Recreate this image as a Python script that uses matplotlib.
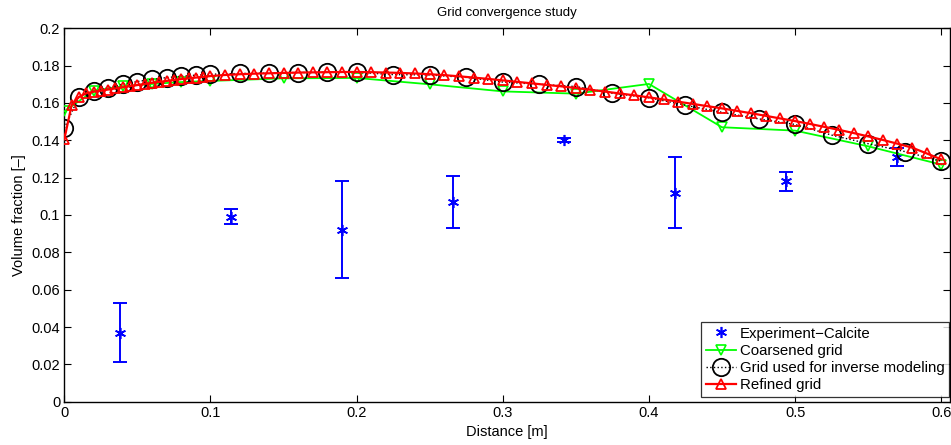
import matplotlib
matplotlib.use("Agg")
import matplotlib.pyplot as plt

plt.rcParams['font.family'] = ['Liberation Sans', 'DejaVu Sans']

# Experimental data
exp_x = [0.038, 0.114, 0.190, 0.266, 0.342, 0.418, 0.494, 0.570]
exp_y = [0.037, 0.099, 0.092, 0.107, 0.140, 0.112, 0.118, 0.131]
exp_lo = [0.021, 0.095, 0.066, 0.093, 0.139, 0.093, 0.113, 0.126]
exp_hi = [0.053, 0.103, 0.118, 0.121, 0.141, 0.131, 0.123, 0.136]

# Coarsened grid
coarse_x = [0.0, 0.02, 0.04, 0.06, 0.08, 0.10, 0.15, 0.20, 0.25, 0.30,
            0.35, 0.40, 0.45, 0.50, 0.55, 0.60]
coarse_y = [0.1555, 0.1665, 0.1690, 0.1702, 0.1712, 0.1718, 0.1732, 0.1734,
            0.1700, 0.1662, 0.1650, 0.1702, 0.1470, 0.1452, 0.1368, 0.1270]

# Grid used for inverse modeling
base_x = [0.0, 0.01, 0.02, 0.03, 0.04, 0.05, 0.06, 0.07, 0.08, 0.09, 0.10,
          0.12, 0.14, 0.16, 0.18, 0.20, 0.225, 0.25, 0.275, 0.30, 0.325,
          0.35, 0.375, 0.40, 0.425, 0.45, 0.475, 0.50, 0.525, 0.55, 0.575, 0.60]
base_y = [0.1465, 0.1632, 0.1662, 0.1682, 0.1700, 0.1715, 0.1726, 0.1736,
          0.1743, 0.1749, 0.1754, 0.1758, 0.1760, 0.1763, 0.1764, 0.1764,
          0.1752, 0.1750, 0.1737, 0.1712, 0.1700, 0.1688, 0.1652, 0.1628,
          0.1588, 0.1550, 0.1515, 0.1485, 0.1428, 0.1382, 0.1340, 0.1288]

# Refined grid
fine_x = [0.0, 0.005, 0.01, 0.015, 0.02, 0.025, 0.03, 0.035, 0.04, 0.045,
          0.05, 0.055, 0.06, 0.065, 0.07, 0.075, 0.08, 0.085, 0.09, 0.095,
          0.10, 0.11, 0.12, 0.13, 0.14, 0.15, 0.16, 0.17, 0.18, 0.19, 0.20,
          0.21, 0.22, 0.23, 0.24, 0.25, 0.26, 0.27, 0.28, 0.29, 0.30,
          0.31, 0.32, 0.33, 0.34, 0.35, 0.36, 0.37, 0.38, 0.39, 0.40,
          0.41, 0.42, 0.43, 0.44, 0.45, 0.46, 0.47, 0.48, 0.49, 0.50,
          0.51, 0.52, 0.53, 0.54, 0.55, 0.56, 0.57, 0.58, 0.59, 0.60]
fine_y = [0.1405, 0.1588, 0.1632, 0.1652, 0.1660, 0.1666, 0.1672, 0.1678,
          0.1684, 0.1690, 0.1696, 0.1702, 0.1708, 0.1713, 0.1718, 0.1723,
          0.1728, 0.1732, 0.1736, 0.1740, 0.1744,
          0.1750, 0.1754, 0.1757, 0.1759, 0.1761, 0.1763, 0.1764, 0.1765,
          0.1766, 0.1766, 0.1765, 0.1763, 0.1761, 0.1758, 0.1754, 0.1749,
          0.1743, 0.1736, 0.1729, 0.1721, 0.1713, 0.1705, 0.1697, 0.1689,
          0.1680, 0.1671, 0.1661, 0.1651, 0.1641, 0.1630, 0.1619, 0.1607,
          0.1595, 0.1583, 0.1571, 0.1558, 0.1545, 0.1531, 0.1517, 0.1503,
          0.1488, 0.1472, 0.1456, 0.1439, 0.1421, 0.1402, 0.1382, 0.1361,
          0.1330, 0.1298]

x_ticks = [0, 0.1, 0.2, 0.3, 0.4, 0.5, 0.6]
x_labels = ['0', '0.1', '0.2', '0.3', '0.4', '0.5', '0.6']
y_ticks = [0, 0.02, 0.04, 0.06, 0.08, 0.10, 0.12, 0.14, 0.16, 0.18, 0.20]
y_labels = ['0', '0.02', '0.04', '0.06', '0.08', '0.1', '0.12', '0.14',
            '0.16', '0.18', '0.2']

fig = plt.figure(figsize=(9.51, 4.45), dpi=100)
ax = fig.add_axes([64.3 / 951, 1 - 401.7 / 445, (950 - 64.3) / 951, (401.7 - 28.3) / 445])

yerr = [[y - lo for y, lo in zip(exp_y, exp_lo)], [hi - y for y, hi in zip(exp_y, exp_hi)]]
ax.errorbar(exp_x, exp_y, yerr=yerr, fmt='none', ecolor='#0000ff',
            elinewidth=1.4, capsize=5.2, capthick=1.4, zorder=2)
ax.plot(exp_x, exp_y, linestyle='none', marker=(6, 2, 0), markersize=8,
        color='#0000ff', markeredgewidth=1.2, label='Experiment\u2212Calcite', zorder=3)
ax.plot(coarse_x, coarse_y, color='#00ff00', linewidth=1.3, marker='v',
        markersize=7, markerfacecolor='none', markeredgewidth=1.2,
        label='Coarsened grid', zorder=3)
ax.plot(base_x, base_y, color='black', linestyle=':', linewidth=1.0, marker='o',
        markersize=12.5, markerfacecolor='none', markeredgewidth=1.3,
        label='Grid used for inverse modeling', zorder=4)
ax.plot(fine_x, fine_y, color='#ff0000', linewidth=1.6, marker='^',
        markersize=7.8, markerfacecolor='none', markeredgewidth=1.3,
        label='Refined grid', zorder=5)

ax.set_xlim(0, 0.606)
ax.set_ylim(0, 0.2)
ax.set_xticks(x_ticks)
ax.set_xticklabels(x_labels)
ax.set_yticks(y_ticks)
ax.set_yticklabels(y_labels)
ax.tick_params(direction='in', length=5, width=0.8, top=True, right=True,
               labelsize=10.5, pad=3)
for s in ax.spines.values():
    s.set_linewidth(1.0)

ax.set_title('Grid convergence study', fontsize=9.5, pad=9)
ax.set_xlabel('Distance [m]', fontsize=10.5, labelpad=4)
ax.set_ylabel('Volume fraction [\u2013]', fontsize=10.5, labelpad=4)

leg = ax.legend(loc='lower right', bbox_to_anchor=(0.999, 0.0126), borderaxespad=0,
                fontsize=10.8, frameon=True, fancybox=False, handlelength=2.05,
                handletextpad=0.23, labelspacing=0.22, borderpad=0.3)
leg.get_frame().set_edgecolor('black')
leg.get_frame().set_linewidth(0.9)

fig.savefig('out.png', dpi=100)
